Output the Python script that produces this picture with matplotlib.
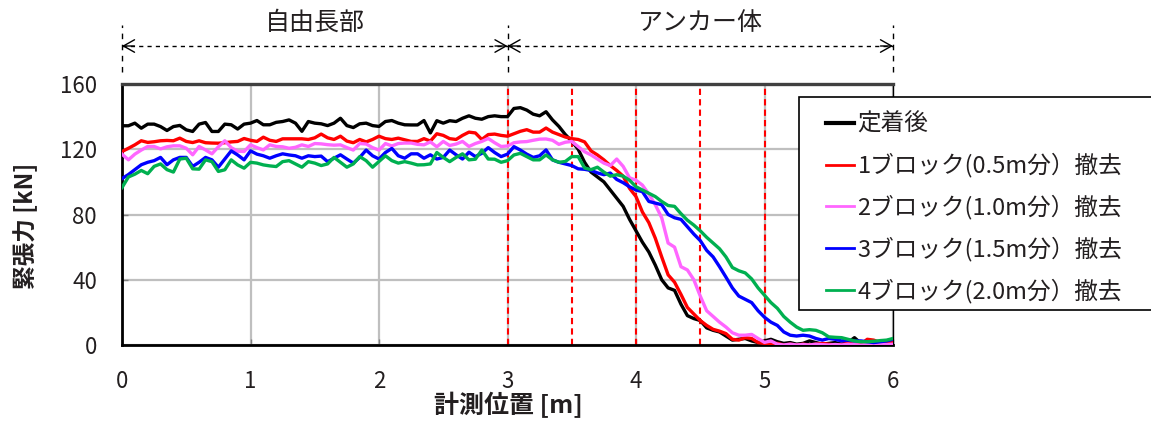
import numpy as np
import matplotlib
matplotlib.use('Agg')
import matplotlib.pyplot as plt
from matplotlib.patches import Rectangle
from matplotlib.transforms import blended_transform_factory

plt.rcParams['font.family'] = ['Noto Sans CJK JP', 'DejaVu Sans']

# ---------------- data ----------------
step_m = 0.05
position_m = np.round(np.arange(0, 6.0 + step_m / 2, step_m), 2)

tension_after = [
    134.4, 134.4, 136.0, 132.9, 135.4, 135.4, 133.9, 131.5, 133.9, 134.6,
    131.9, 130.9, 135.4, 136.4, 130.9, 130.9, 135.4, 135.0, 132.4, 135.4,
    136.0, 137.6, 135.0, 135.0, 136.5, 137.0, 138.0, 136.0, 131.0, 137.0,
    136.0, 135.6, 134.5, 136.0, 139.0, 134.5, 133.3, 135.6, 136.0, 134.5,
    134.0, 137.0, 137.6, 136.0, 135.0, 134.9, 134.9, 137.6, 130.0, 137.5,
    136.0, 137.5, 137.0, 139.0, 140.5, 139.0, 138.4, 140.0, 140.5, 140.0,
    140.0, 145.0, 145.5, 144.0, 141.5, 140.5, 143.0, 138.0, 134.0, 129.0,
    125.0, 120.0, 112.0, 106.0, 103.0, 100.0, 95.0, 90.0, 85.0, 77.0,
    70.0, 63.0, 57.0, 49.0, 40.0, 35.0, 33.5, 25.0, 18.0, 16.2,
    15.0, 10.5, 9.0, 8.0, 5.5, 3.0, 3.5, 4.0, 2.5, 1.5,
    2.5, 3.5, 2.0, 1.0, 1.5, 0.5, 1.0, 2.5, 1.5, 0.5,
    1.0, 1.5, 0.5, 1.5, 4.5, 1.0, 0.5, 1.0, 1.5, 0.5,
    1.0,
]

tension_block1 = [
    118.6, 120.6, 122.7, 125.2, 124.2, 124.6, 125.2, 125.4, 125.2, 126.8,
    124.8, 124.1, 125.2, 124.0, 123.8, 123.7, 124.0, 124.5, 124.8, 126.6,
    125.5, 124.8, 127.4, 125.5, 124.8, 126.4, 126.4, 126.4, 126.4, 126.0,
    127.0, 129.3, 127.0, 126.0, 128.0, 125.0, 124.0, 126.0, 124.5, 126.0,
    128.0, 126.5, 126.0, 126.8, 125.8, 124.8, 124.8, 126.5, 125.0, 129.5,
    128.5, 126.5, 126.0, 128.5, 130.5, 130.0, 126.0, 129.0, 129.3, 128.5,
    128.0, 129.5, 131.0, 132.0, 130.5, 130.5, 133.0, 130.5, 129.0, 127.5,
    126.5, 126.0, 124.5, 119.0, 116.5, 113.5, 110.0, 107.0, 103.5, 96.0,
    91.0, 81.5, 75.0, 65.5, 54.0, 43.0, 38.5, 31.0, 23.0, 19.0,
    15.0, 12.0, 9.6, 8.5, 7.0, 3.5, 3.0, 4.5, 4.0, 1.5,
    1.0, 0.5, 1.0, 0.0, 0.5, 0.0, 0.5, 0.0, 0.5, 1.0,
    0.5, 0.0, 0.5, 1.0, 0.5, 0.5, 3.5, 3.0, 1.5, 1.0,
    2.0,
]

tension_block2 = [
    117.0, 113.5, 117.0, 119.5, 121.7, 121.7, 120.2, 121.5, 122.1, 122.1,
    120.6, 116.6, 121.7, 119.6, 117.2, 121.5, 125.2, 121.0, 118.8, 118.6,
    122.7, 121.0, 119.6, 122.7, 121.7, 121.5, 120.6, 121.2, 122.7, 121.7,
    123.5, 123.3, 122.8, 122.5, 122.7, 121.0, 119.5, 123.5, 123.2, 121.0,
    119.5, 123.5, 122.0, 123.5, 123.8, 123.8, 123.0, 122.7, 124.5, 121.5,
    124.8, 122.3, 123.2, 124.8, 121.7, 123.5, 124.8, 126.6, 124.0, 121.7,
    122.0, 124.0, 124.5, 124.7, 125.5, 126.2, 126.3, 125.5, 123.0, 124.3,
    124.8, 121.6, 118.5, 116.5, 114.0, 111.5, 110.0, 114.0, 109.5, 102.5,
    101.0, 98.0, 92.5, 86.0, 78.0, 62.5, 60.0, 48.0, 46.0, 40.0,
    30.0, 21.0, 17.5, 14.0, 11.0, 7.5, 6.0, 6.0, 6.5, 4.0,
    1.6, 2.5, 0.5, 0.0, 0.5, 0.0, 0.3, 0.0, 0.5, 0.2,
    0.0, 0.3, 0.0, 0.5, 0.2, 0.0, 0.3, 0.0, 0.2, 0.3,
    0.5,
]

tension_block3 = [
    102.0, 104.5, 107.5, 110.5, 112.0, 113.0, 115.0, 110.5, 113.5, 115.0,
    115.0, 109.5, 112.0, 115.0, 113.5, 109.0, 114.0, 119.0, 116.5, 113.5,
    119.0, 117.0, 116.0, 114.5, 116.0, 117.2, 116.5, 116.0, 114.5, 116.0,
    115.5, 115.8, 112.4, 114.5, 116.6, 114.0, 111.5, 115.0, 119.5, 116.0,
    114.0, 118.0, 120.5, 116.0, 114.5, 117.2, 117.2, 114.5, 116.6, 114.0,
    115.0, 119.5, 116.6, 114.0, 118.2, 115.5, 117.5, 121.0, 118.0, 115.5,
    117.0, 121.6, 119.5, 117.0, 115.0, 116.0, 119.6, 113.5, 112.0, 111.0,
    110.0, 108.0, 107.7, 107.0, 105.5, 104.4, 105.4, 101.5, 99.5, 97.0,
    95.0, 94.0, 88.0, 87.0, 86.0, 80.0, 78.0, 77.0, 72.5, 68.0,
    64.0, 58.0, 54.0, 48.0, 41.6, 35.0, 30.0, 28.0, 26.0, 21.0,
    17.0, 14.0, 12.0, 8.0, 6.0, 5.5, 6.0, 5.5, 4.0, 3.0,
    4.0, 3.5, 2.5, 3.0, 2.5, 2.5, 2.0, 1.5, 2.0, 2.5,
    3.5,
]

tension_block4 = [
    96.5, 103.0, 104.7, 107.0, 105.0, 109.5, 111.0, 107.5, 106.0, 114.0,
    114.5, 108.0, 107.8, 113.5, 112.4, 106.4, 107.4, 113.5, 110.4, 108.4,
    112.0, 111.5, 110.4, 109.8, 109.4, 112.4, 113.0, 111.0, 109.0, 112.4,
    111.5, 110.0, 111.0, 115.0, 112.0, 109.0, 111.0, 115.5, 113.0, 109.0,
    112.5, 116.0, 113.0, 111.5, 112.4, 111.5, 110.4, 110.5, 111.0, 118.0,
    115.0, 112.4, 115.0, 117.2, 113.5, 113.9, 119.5, 114.0, 113.9, 112.0,
    113.0, 116.5, 117.5, 115.5, 113.5, 113.5, 116.5, 113.5, 112.0, 112.5,
    115.5, 115.5, 108.5, 107.5, 109.0, 106.0, 103.5, 104.4, 103.5, 101.0,
    97.0, 95.0, 93.0, 91.0, 88.0, 85.5, 85.0, 80.5, 76.5, 73.5,
    70.0, 66.0, 62.5, 59.0, 54.0, 47.5, 45.5, 44.2, 40.5, 35.0,
    30.5, 26.0, 22.5, 17.5, 14.0, 11.0, 9.0, 9.4, 9.0, 7.5,
    5.0, 4.7, 4.5, 3.5, 2.5, 2.0, 2.0, 2.3, 2.7, 3.0,
    4.0,
]

series_labels = ['定着後', '1ブロック(0.5m分）撤去', '2ブロック(1.0m分）撤去',
                 '3ブロック(1.5m分）撤去', '4ブロック(2.0m分）撤去']
series_colors = ['#000000', '#FF0000', '#FF66FF', '#0000FF', '#00B050']

section_bounds = [0.0, 3.0, 6.0]
section_labels = ['自由長部', 'アンカー体']
block_cut_positions = [3.0, 3.5, 4.0, 4.5, 5.0]

x_ticks = [0, 1, 2, 3, 4, 5, 6]
y_ticks = [0, 40, 80, 120, 160]
x_label = '計測位置 [m]'
y_label = '緊張力 [kN]'

# ---------------- figure ----------------
W, H = 1151, 421
fig = plt.figure(figsize=(W / 100, H / 100), dpi=100)
ax = fig.add_axes([122 / W, 1 - 345 / H, (893 - 122) / W, (345 - 84) / H])

text_color = '#231F20'

ax.set_xlim(0, 6)
ax.set_ylim(0, 160)
ax.set_xticks(x_ticks)
ax.set_yticks(y_ticks)
ax.grid(True, color='#BFBFBF', linewidth=1.6, zorder=0)
ax.set_axisbelow(True)
ax.tick_params(axis='both', direction='in', length=4, width=1, color='#808080',
               labelsize=16, labelcolor=text_color)
ax.tick_params(axis='x', pad=18)
ax.tick_params(axis='y', pad=18)

for s in ['left', 'bottom']:
    ax.spines[s].set_linewidth(2.0)
    ax.spines[s].set_color('#000000')
ax.spines['top'].set_linewidth(2.4)
ax.spines['top'].set_color('#404040')
ax.spines['right'].set_linewidth(1.0)
ax.spines['right'].set_color('#000000')

for xc in block_cut_positions:
    ax.axvline(xc, color='#FF0000', linewidth=1.5, linestyle=(0, (3, 2)), zorder=2)

all_series = [tension_after, tension_block1, tension_block2, tension_block3, tension_block4]
lines = []
for vals, lab, col in zip(all_series, series_labels, series_colors):
    ln, = ax.plot(position_m, vals, color=col, linewidth=2.4, label=lab, zorder=3,
                  solid_joinstyle='round')
    lines.append(ln)

ax.set_xlabel(x_label, fontsize=18, fontweight='bold', color=text_color, va='center')
ax.xaxis.set_label_coords((508 - 122) / 771, (345 - 405) / 261)
ax.set_ylabel(y_label, fontsize=17, fontweight='bold', color=text_color, va='center')
ax.yaxis.set_label_coords((26 - 122) / 771, (345 - 226) / 261)

# ---------------- section annotations above the plot ----------------
trans = blended_transform_factory(ax.transData, fig.transFigure)
y_line_top = 1 - 25 / H
y_line_bot = 1 - 72 / H
y_arrow = 1 - 46 / H
y_text = 1 - 23 / H
for xb in section_bounds:
    ax.plot([xb, xb], [y_line_bot, y_line_top], transform=trans, clip_on=False,
            color='#000000', linewidth=1.0, linestyle=(0, (4, 4)))
for i, lab in enumerate(section_labels):
    x0, x1 = section_bounds[i], section_bounds[i + 1]
    ax.plot([x0, x1], [y_arrow, y_arrow], transform=trans, clip_on=False,
            color='#000000', linewidth=1.0, linestyle=(0, (3, 3)))
    ax.annotate('', xy=(x0, y_arrow), xycoords=trans, xytext=(9, 0),
                textcoords='offset points',
                arrowprops=dict(arrowstyle='->,head_length=0.8,head_width=0.45',
                                lw=1.0, color='#000000', shrinkA=0, shrinkB=0))
    ax.annotate('', xy=(x1, y_arrow), xycoords=trans, xytext=(-9, 0),
                textcoords='offset points',
                arrowprops=dict(arrowstyle='->,head_length=0.8,head_width=0.45',
                                lw=1.0, color='#000000', shrinkA=0, shrinkB=0))
    ax.text((x0 + x1) / 2, y_text, lab, transform=trans, ha='center', va='center',
            fontsize=18, color=text_color)

# ---------------- legend ----------------
frame = Rectangle((799 / W, 1 - 310 / H), (1160 - 799) / W, (310 - 97) / H,
                  transform=fig.transFigure, facecolor='white', edgecolor='#000000',
                  linewidth=1.2, zorder=4)
fig.patches.append(frame)
leg = fig.legend(handles=lines, labels=series_labels, loc='upper left',
                 bbox_to_anchor=(826 / W, 1 - 113 / H), frameon=False,
                 fontsize=17, handlelength=1.2, handletextpad=0.13,
                 labelspacing=0.72, borderpad=0, borderaxespad=0)
leg.set_zorder(5)
for t in leg.get_texts():
    t.set_color(text_color)
for i, h in enumerate(leg.legend_handles):
    h.set_linewidth(3.0 if i == 0 else 2.0)

fig.savefig('out.png', dpi=100)
